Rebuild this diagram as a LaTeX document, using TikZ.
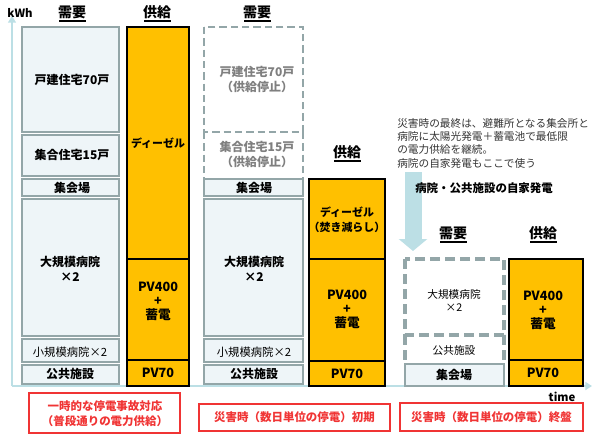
\documentclass[tikz,border=0pt]{standalone}
\usepackage{fontspec}
\setmainfont{Noto Sans CJK JP}
\usetikzlibrary{arrows.meta, positioning}

\definecolor{axisblue}{HTML}{BCDFE5}
\definecolor{boxgray}{HTML}{93A6A8}
\definecolor{boxfill}{HTML}{EEF5F8}
\definecolor{pvorange}{HTML}{FFC000}
\definecolor{stopgray}{HTML}{7F7F7F}
\definecolor{notered}{HTML}{F03434}

\begin{document}
\begin{tikzpicture}[x=0.75pt, y=-0.75pt,
    >=Latex, % Set default arrow tip style
    demand/.style={draw=boxgray, line width=1.8pt, fill=boxfill}, % Demand blocks
    stopped/.style={draw=boxgray, line width=1.3pt, dash pattern=on 5.5pt off 3pt}, % Cut-off demand
    lastcut/.style={draw=boxgray, line width=2.4pt, dash pattern=on 7.5pt off 3.75pt}, % Final stage demand
    supply/.style={draw=black, line width=2pt, fill=pvorange}, % Supply blocks
    lbl/.style={font=\fontsize{9}{11.25}\selectfont\bfseries, align=center, inner sep=0pt},
    kana lbl/.style={font=\fontsize{8.2}{11}\selectfont\bfseries, align=center, inner sep=0pt},
    thin lbl/.style={font=\fontsize{8.5}{10}\selectfont, align=center, inner sep=0pt},
    gray lbl/.style={lbl, text=stopgray},
    pv lbl/.style={font=\fontsize{9.5}{10.5}\selectfont\bfseries, align=center, inner sep=0pt},
    head/.style={font=\fontsize{10.5}{12}\selectfont\bfseries, inner sep=0pt},
    headline/.style={black, line width=1.2pt},
    notebox/.style={draw=notered, line width=1.1pt},
    notetext/.style={text=notered, font=\fontsize{8.6}{11.5}\selectfont\bfseries, align=center, inner sep=0pt}
]

    \useasboundingbox (0,0) rectangle (595,436);

    % Axes
    \coordinate (O) at (12,386);
    \coordinate (ytip) at (12,16);
    \coordinate (xtip) at (592,386);
    \draw[axisblue, line width=1.5pt, -{Triangle[width=6pt,length=5pt]}] (O) -- (ytip);
    \draw[axisblue, line width=1.5pt, -{Triangle[width=6pt,length=5pt]}] (O) -- (xtip);
    \node[font=\fontsize{8.5}{10}\selectfont\bfseries, inner sep=0pt] (kwh) at (20,13) {kWh};
    \node[font=\fontsize{8.5}{10}\selectfont\bfseries, inner sep=0pt] (time) at (562,397) {time};

    % Normal operation: demand
    \node[head] (dem1) at (72,12) {需要};
    \draw[headline] (59,21) -- (86,21);
    \draw[demand] (22,27) rectangle (119,132);
    \draw[demand] (22,135) rectangle (119,176);
    \draw[demand] (22,179) rectangle (119,196);
    \draw[demand] (22,199) rectangle (119,336);
    \draw[demand] (22,339) rectangle (119,362);
    \draw[demand] (22,365) rectangle (119,384);
    \node[lbl] (house1) at (72,80) {戸建住宅70戸};
    \node[lbl] (flat1) at (72,155) {集合住宅15戸};
    \node[lbl] (hall1) at (72,188) {集会場};
    \node[lbl] (bighosp1) at (70,268.5) {大規模病院\\×2};
    \node[thin lbl] (smallhosp1) at (70,352) {小規模病院×2};
    \node[lbl] (public1) at (70,374) {公共施設};

    % Normal operation: supply
    \node[head] (sup1) at (157,12) {供給};
    \draw[headline] (144,21) -- (171,21);
    \draw[supply] (127,27) rectangle (189,386);
    \draw[black, line width=2pt] (127,259) -- (189,259);
    \draw[black, line width=2pt] (127,360) -- (189,360);
    \node[kana lbl] (diesel1) at (158,143) {ディーゼル};
    \node[pv lbl] (pv1) at (158,301) {PV400\\+\\蓄電};
    \node[pv lbl] (pvs1) at (158,373) {PV70};

    % Early disaster: demand
    \node[head] (dem2) at (257,12) {需要};
    \draw[headline] (244,21) -- (271,21);
    \draw[stopped] (204,27) rectangle (303,132);
    \draw[stopped] (204,132) -- (204,178);
    \draw[stopped] (303,132) -- (303,178);
    \draw[demand] (204,179) rectangle (303,196);
    \draw[demand] (204,199) rectangle (303,336);
    \draw[demand] (204,339) rectangle (303,362);
    \draw[demand] (204,365) rectangle (303,384);
    \node[gray lbl] (house2) at (257,79.5) {戸建住宅70戸\\（供給停止）};
    \node[gray lbl] (flat2) at (257,154.5) {集合住宅15戸\\（供給停止）};
    \node[lbl] (hall2) at (254,188) {集会場};
    \node[lbl] (bighosp2) at (254,268.5) {大規模病院\\×2};
    \node[thin lbl] (smallhosp2) at (254,352) {小規模病院×2};
    \node[lbl] (public2) at (254,374) {公共施設};

    % Early disaster: supply
    \node[head] (sup2) at (347,152) {供給};
    \draw[headline] (334,161) -- (361,161);
    \draw[supply] (309,179) rectangle (385,386);
    \draw[black, line width=2pt] (309,259) -- (385,259);
    \draw[black, line width=2pt] (309,361) -- (385,361);
    \node[kana lbl] (diesel2) at (347,219.5) {ディーゼル\\（焚き減らし）};
    \node[pv lbl] (pv2) at (347,309) {PV400\\+\\蓄電};
    \node[pv lbl] (pvs2) at (347,374) {PV70};

    % Late disaster: comment and arrow
    \node[anchor=west, text=black!80, font=\fontsize{8}{10}\selectfont, align=left, inner sep=0pt] (memo) at (397,143)
        {災害時の最終は、避難所となる集会所と\\病院に太陽光発電＋蓄電池で最低限\\の電力供給を継続。\\病院の自家発電もここで使う};
    \coordinate (arrtop) at (413,172);
    \coordinate (arrtip) at (413,251);
    \draw[axisblue, line width=12.75pt, -{Triangle[width=21pt,length=9pt]}] (arrtop) -- (arrtip);
    \node[anchor=west, font=\fontsize{8.6}{10}\selectfont\bfseries, inner sep=0pt] (selfgen) at (415,188) {病院・公共施設の自家発電};

    % Late disaster: demand
    \node[head] (dem3) at (453,233) {需要};
    \draw[headline] (440,242) -- (467,242);
    \draw[lastcut] (405,259) rectangle (504,335);
    \draw[lastcut] (405,335) -- (405,363);
    \draw[lastcut] (504,335) -- (504,363);
    \draw[demand] (405,364) rectangle (504,386);
    \node[thin lbl, font=\fontsize{8}{10}\selectfont] (bighosp3) at (454,300.5) {大規模病院\\×2};
    \node[thin lbl, font=\fontsize{8}{10}\selectfont] (public3) at (454,350) {公共施設};
    \node[lbl] (hall3) at (454,375) {集会場};

    % Late disaster: supply
    \node[head] (sup3) at (543,233) {供給};
    \draw[headline] (530,242) -- (557,242);
    \draw[supply] (509,259) rectangle (583,386);
    \draw[black, line width=2pt] (509,360) -- (583,360);
    \node[pv lbl] (pv3) at (543,310.5) {PV400\\+\\蓄電};
    \node[pv lbl] (pvs3) at (543,373) {PV70};

    % Stage captions
    \draw[notebox] (29,393) rectangle (180,433);
    \node[notetext] (note1) at (105,413.5) {一時的な停電事故対応\\（普段通りの電力供給）};
    \draw[notebox] (199,404) rectangle (390,431);
    \node[notetext] (note2) at (294.5,417.5) {災害時（数日単位の停電）初期};
    \draw[notebox] (400,403) rectangle (583,431);
    \node[notetext] (note3) at (491.5,417) {災害時（数日単位の停電）終盤};

\end{tikzpicture}
\end{document}
